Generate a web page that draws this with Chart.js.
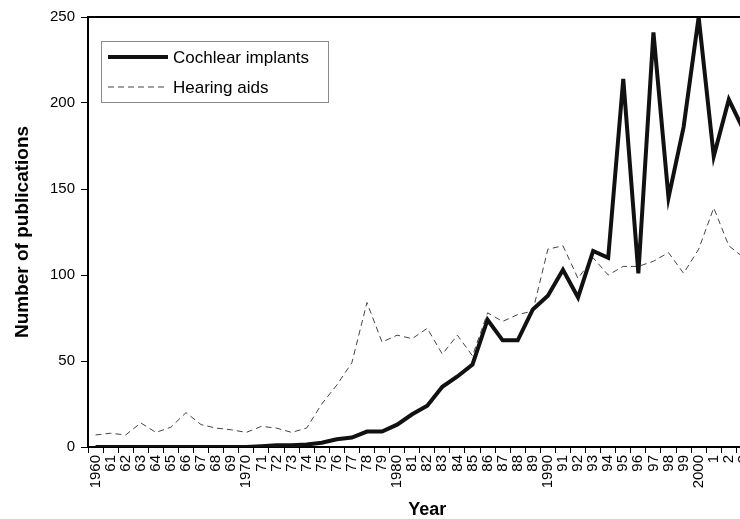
<!DOCTYPE html>
<html>
<head>
<meta charset="utf-8">
<title>Publications per year</title>
<script src="https://cdn.jsdelivr.net/npm/chart.js@4"></script>
<style>
    html, body { margin: 0; padding: 0; overflow: hidden; background: #fff; }
    #wrap { width: 740px; height: 519px; overflow: hidden; }
</style>
</head>
<body>
<div id="wrap"><canvas id="pubChart" width="779" height="519"></canvas></div>
<script>
// year labels as printed under the axis (the picture is cut off after 2003)
const years = [
    '1960', '61', '62', '63', '64', '65', '66', '67', '68', '69',
    '1970', '71', '72', '73', '74', '75', '76', '77', '78', '79',
    '1980', '81', '82', '83', '84', '85', '86', '87', '88', '89',
    '1990', '91', '92', '93', '94', '95', '96', '97', '98', '99',
    '2000', '1', '2', '3', '4'
];

const cochlearImplants = [
    0, 0, 0, 0, 0, 0, 0, 0, 0, 0,
    0, 0.5, 1, 1, 1.5, 2.5, 4.5, 5.5, 9, 9,
    13, 19, 24, 35, 41, 48, 74, 62, 62, 80,
    88, 103, 87, 114, 110, 214, 101, 241, 145, 186,
    250, 169, 202, 184
];

const hearingAids = [
    7, 8, 7, 14, 8.5, 11.5, 20, 13, 11, 10,
    8.5, 12, 11, 8.5, 11, 25, 36, 49, 84, 61,
    65, 63, 69, 54, 65, 53, 78, 73, 77, 79,
    115, 117, 98, 110, 100, 105, 105, 108, 113, 101,
    115, 139, 117, 110
];

const yMin = 0;
const yMax = 250;
const yStep = 50;

document.addEventListener('DOMContentLoaded', function () {
    const canvas = document.getElementById('pubChart');
    if (!canvas) return;

    const font = "'Liberation Sans', Arial, sans-serif";
    Chart.defaults.font.family = font;
    Chart.defaults.color = '#000';

    // top edge of the plot frame
    const frameTop = {
        id: 'frameTop',
        afterDraw(chart) {
            const { ctx, chartArea } = chart;
            ctx.save();
            ctx.strokeStyle = '#000';
            ctx.lineWidth = 2;
            ctx.beginPath();
            ctx.moveTo(chartArea.left, chartArea.top);
            ctx.lineTo(chartArea.right, chartArea.top);
            ctx.stroke();
            ctx.restore();
        }
    };

    // boxed legend sitting inside the plot, top left
    const boxLegend = {
        id: 'boxLegend',
        afterDraw(chart) {
            const { ctx, chartArea } = chart;
            const bx = chartArea.left + 13;
            const by = chartArea.top + 24;
            ctx.save();
            ctx.fillStyle = '#fff';
            ctx.fillRect(bx, by, 227, 61);
            ctx.strokeStyle = '#8a8a8a';
            ctx.lineWidth = 1;
            ctx.strokeRect(bx + 0.5, by + 0.5, 227, 61);

            chart.data.datasets.forEach(function (ds, i) {
                const rowY = by + 16 + i * 30;
                ctx.strokeStyle = ds.borderColor;
                ctx.lineWidth = ds.borderWidth;
                ctx.setLineDash(ds.borderDash || []);
                ctx.beginPath();
                ctx.moveTo(bx + 7, rowY);
                ctx.lineTo(bx + 67, rowY);
                ctx.stroke();
                ctx.setLineDash([]);
                ctx.fillStyle = '#000';
                ctx.font = '17px ' + font;
                ctx.textBaseline = 'middle';
                ctx.fillText(ds.label, bx + 72, rowY + 1);
            });
            ctx.restore();
        }
    };

    new Chart(canvas.getContext('2d'), {
        type: 'line',
        data: {
            labels: years,
            datasets: [{
                label: 'Cochlear implants',
                data: cochlearImplants,
                borderColor: '#111',
                borderWidth: 4,
                pointRadius: 0,
                tension: 0,
                fill: false
            }, {
                label: 'Hearing aids',
                data: hearingAids,
                borderColor: '#444',
                borderWidth: 1,
                borderDash: [6, 4],
                pointRadius: 0,
                tension: 0,
                fill: false
            }]
        },
        options: {
            responsive: false,
            animation: false,
            layout: {
                padding: { top: 17, right: 2, left: 0, bottom: 0 }
            },
            plugins: {
                legend: { display: false },
                tooltip: { enabled: false }
            },
            scales: {
                x: {
                    type: 'category',
                    offset: true,
                    grid: {
                        offset: true,
                        drawOnChartArea: false,
                        drawTicks: true,
                        tickLength: 6,
                        color: '#000'
                    },
                    border: { display: true, color: '#000', width: 2 },
                    ticks: {
                        autoSkip: false,
                        maxRotation: 90,
                        minRotation: 90,
                        padding: 2,
                        font: { size: 15 }
                    },
                    title: {
                        display: true,
                        text: 'Year',
                        font: { size: 18, weight: 'bold', lineHeight: 1 },
                        padding: { top: 0, bottom: 0 }
                    },
                    afterFit: function (scale) { scale.height = 72; }
                },
                y: {
                    min: yMin,
                    max: yMax,
                    grid: {
                        drawOnChartArea: false,
                        drawTicks: true,
                        tickLength: 7,
                        color: '#000'
                    },
                    border: { display: true, color: '#000', width: 2 },
                    ticks: {
                        stepSize: yStep,
                        padding: 6,
                        font: { size: 15 }
                    },
                    title: {
                        display: true,
                        text: 'Number of publications',
                        font: { size: 19, weight: 'bold', lineHeight: 1 },
                        padding: { top: 13, bottom: 0 }
                    },
                    afterFit: function (scale) { scale.width = 88; }
                }
            }
        },
        plugins: [frameTop, boxLegend]
    });
});
</script>
</body>
</html>
